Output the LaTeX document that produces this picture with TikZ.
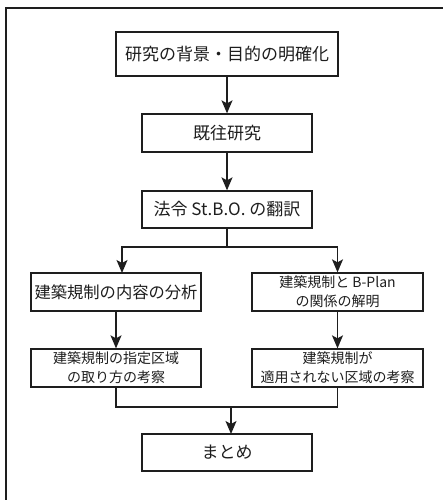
\documentclass[tikz,border=0pt]{standalone}
\usepackage{fontspec}
\newfontfamily\cjk{Noto Sans CJK JP}
\usetikzlibrary{arrows.meta}
\definecolor{ink}{HTML}{1E1E1E}
\tikzset{
  box/.style={draw=ink, line width=1.3pt, fill=white, text=ink, inner sep=0pt, align=center, font=\cjk},
  big/.style={box, font=\cjk\fontsize{17}{21}\selectfont},
  small/.style={box, font=\cjk\fontsize{14}{19}\selectfont},
  conn/.style={draw=ink, line width=1.3pt},
  arr/.style={conn, -{Stealth[length=13pt, width=11pt, inset=3pt]}},
}
\begin{document}
\begin{tikzpicture}[x=1pt,y=-1pt]
\useasboundingbox (0,0) rectangle (442,500);
\fill[white] (0,0) rectangle (442,500);
\draw[ink, line width=2pt] (6,520) -- (6,8) -- (460,8);

\node[big, minimum width=222pt, minimum height=44pt] (b1) at (227,54) {研究の背景・目的の明確化};
\node[big, minimum width=170pt, minimum height=38pt] (b2) at (227,133) {既往研究};
\node[big, minimum width=170pt, minimum height=37pt] (b3) at (227,209.5) {法令 St.B.O. の翻訳};
\node[big, minimum width=170pt, minimum height=38pt, font=\cjk\fontsize{16.3}{20}\selectfont] (b4) at (116,292) {建築規制の内容の分析};
\node[small, minimum width=171pt, minimum height=38pt] (b5) at (337.5,292) {建築規制と B-Plan\\の関係の解明};
\node[small, minimum width=170pt, minimum height=38pt] (b6) at (116,368) {建築規制の指定区域\\の取り方の考察};
\node[small, minimum width=171pt, minimum height=38pt] (b7) at (337.5,368) {建築規制が\\適用されない区域の考察};
\node[big, minimum width=170pt, minimum height=37pt] (b8) at (227,452.5) {まとめ};

\draw[arr] (b1) -- (b2);
\draw[arr] (b2) -- (b3);

\coordinate (split) at (227,247);
\coordinate (sl) at (122,247);
\coordinate (sr) at (337.5,247);
\coordinate (l4) at (122,273);
\draw[conn] (b3.south) -- (split);
\draw[arr] (split) -- (sl) -- (l4);
\draw[arr] (split) -- (sr) -- (b5.north);

\draw[arr] (b4.south) -- (b6.north);
\draw[arr] (b5.south) -- (b7.north);

\coordinate (ml) at (116,407);
\coordinate (mr) at (337.5,407);
\coordinate (mm) at (231,407);
\coordinate (m8) at (231,434);
\draw[conn] (b6.south) -- (ml) -- (mr) -- (b7.south);
\draw[arr] (mm) -- (m8);
\end{tikzpicture}
\end{document}
